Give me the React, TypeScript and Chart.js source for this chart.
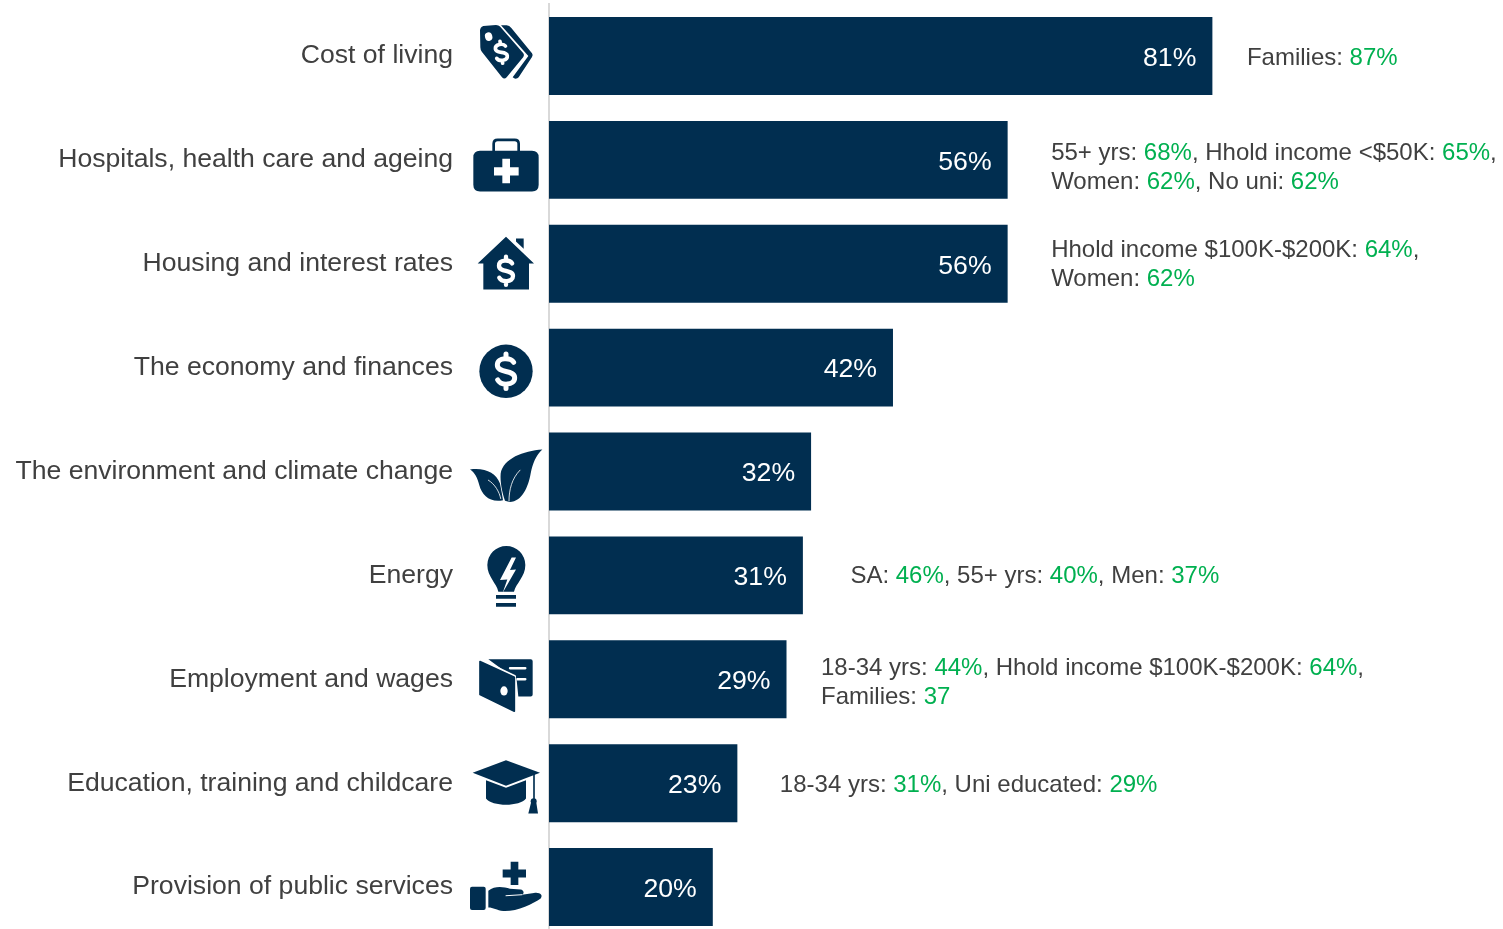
import React, { useEffect, useRef } from "react";
import { Chart, registerables } from "chart.js";

Chart.register(...registerables);

const categories = [
  "Cost of living",
  "Hospitals, health care and ageing",
  "Housing and interest rates",
  "The economy and finances",
  "The environment and climate change",
  "Energy",
  "Employment and wages",
  "Education, training and childcare",
  "Provision of public services",
];
const shares = [81, 56, 56, 42, 32, 31, 29, 23, 20];

// Each note line alternates: plain text, highlighted text, plain text, ...
const notes: string[][][] = [
  [["Families: ", "87%"]],
  [
    ["55+ yrs: ", "68%", ", Hhold income <$50K: ", "65%", ","],
    ["Women: ", "62%", ", No uni: ", "62%"],
  ],
  [
    ["Hhold income $100K-$200K: ", "64%", ","],
    ["Women: ", "62%"],
  ],
  [],
  [],
  [["SA: ", "46%", ", 55+ yrs: ", "40%", ", Men: ", "37%"]],
  [
    ["18-34 yrs: ", "44%", ", Hhold income $100K-$200K: ", "64%", ","],
    ["Families: ", "37"],
  ],
  [["18-34 yrs: ", "31%", ", Uni educated: ", "29%"]],
  [],
];
const noteGaps = [34.5, 43.5, 43.5, 0, 0, 47.5, 34.5, 42.5, 0];
const noteShifts = [2, 7.6, 1, 0, 0, 1, 3.2, 2, 0];

const NAVY = "#012e50";
const GREY = "#404040";
const GREEN = "#00b050";
const FONT = '"Liberation Sans", Arial, sans-serif';

type C = CanvasRenderingContext2D;

function fillPath(ctx: C, d: string, color = NAVY) {
  ctx.fillStyle = color;
  ctx.fill(new Path2D(d));
}
function strokePath(ctx: C, d: string, width: number, color = "#ffffff") {
  ctx.strokeStyle = color;
  ctx.lineWidth = width;
  ctx.lineCap = "round";
  ctx.lineJoin = "round";
  ctx.stroke(new Path2D(d));
}
function dollar(ctx: C, x: number, y: number, h: number, w: number, rot = 0) {
  ctx.save();
  ctx.translate(x, y);
  ctx.rotate(rot);
  ctx.scale(h, h);
  strokePath(
    ctx,
    "M.22 -.26C.14 -.4 -.25 -.42 -.25 -.18C-.25 .07 .25 -.06 .25 .19C.25 .42 -.15 .42 -.24 .25M0 -.5L0 -.38M0 .38L0 .5",
    w / h
  );
  ctx.restore();
}

// Icons are drawn in 3x units; [reference y, painter] anchors each on its bar.
const icons: [number, (ctx: C) => void][] = [
  [168, (ctx) => {
    fillPath(ctx, "M123 76L140 76Q148 76 154 84L216 160Q220 165 216 171L176 232Q172 237 164 236L158 232L205 168Z");
    fillPath(ctx, "M60 92Q60 82 70 78L108 75Q116 75 120 80L190 160Q194 165 190 171L140 232Q133 240 126 232L66 156Q61 150 61 142Z");
    ctx.fillStyle = "#fff";
    ctx.beginPath();
    ctx.ellipse(86, 110, 11, 13, -0.3, 0, Math.PI * 2);
    ctx.fill();
    dollar(ctx, 124, 157, 66, 11, -0.12);
  }],
  [480, (ctx) => {
    strokePath(ctx, "M101 455L101 432Q101 420 113 420L164 420Q176 420 176 432L176 455", 8, NAVY);
    fillPath(ctx, "M60 453L216 453Q236 453 236 473L236 555Q236 575 216 575L60 575Q40 575 40 555L40 473Q40 453 60 453Z");
    fillPath(ctx, "M127 477L150 477L150 502L176 502L176 527L150 527L150 550L127 550L127 527L102 527L102 502L127 502Z", "#fff");
  }],
  [791, (ctx) => {
    fillPath(ctx, "M168 715L191 715L191 746L168 724Z");
    fillPath(ctx, "M138 710L222 790L207 790L207 868L70 868L70 790L53 790Z");
    dollar(ctx, 138, 812, 84, 13);
  }],
  [173, (ctx) => {
    ctx.fillStyle = NAVY;
    ctx.beginPath();
    ctx.arc(138, 184, 80, 0, Math.PI * 2);
    ctx.fill();
    dollar(ctx, 138, 184, 104, 15);
  }],
  [484, (ctx) => {
    fillPath(ctx, "M247 418C190 422 130 445 122 490C120 515 126 545 135 572L146 575C185 578 205 530 212 490C218 460 228 435 247 418Z");
    fillPath(ctx, "M30 478C75 472 108 488 120 520C124 540 127 555 129 570C90 578 66 555 58 525C52 503 45 488 30 478Z");
    strokePath(ctx, "M147 572C147 540 155 505 180 480", 2.5);
    strokePath(ctx, "M122 565C118 545 105 522 85 510", 2.5);
  }],
  [796, (ctx) => {
    fillPath(ctx, "M115 845C110 820 82 800 82 765A56 56 0 0 1 196 765C196 800 168 820 162 845Z");
    fillPath(ctx, "M155 742L168 742L150 780L168 778L128 848L142 808L120 810Z", "#fff");
    fillPath(ctx, "M108 855L168 855L168 866L108 866ZM108 879L168 879L168 890L108 890Z");
  }],
  [178, (ctx) => {
    fillPath(ctx, "M85 118L212 118Q218 118 218 124L218 224Q218 230 212 230L175 230L170 180Z");
    strokePath(ctx, "M60 120L163 170L163 278L60 228Z", 10);
    strokePath(ctx, "M60 125L163 172L163 274L60 224Z", 5, NAVY);
    fillPath(ctx, "M60 125L163 172L163 274L60 224Z");
    strokePath(ctx, "M150 145L196 145M172 178L196 178", 7);
    ctx.fillStyle = "#fff";
    ctx.beginPath();
    ctx.ellipse(132, 213, 11, 14, 0, 0, Math.PI * 2);
    ctx.fill();
  }],
  [489, (ctx) => {
    fillPath(ctx, "M138 420L240 458L138 497L38 458Z");
    fillPath(ctx, "M78 480L138 503L198 480L198 535C180 560 96 560 78 535Z");
    strokePath(ctx, "M222 462L222 535", 5, NAVY);
    ctx.fillStyle = NAVY;
    ctx.beginPath();
    ctx.arc(221, 543, 9, 0, Math.PI * 2);
    ctx.fill();
    fillPath(ctx, "M213 548L229 548L234 580L205 580Z");
  }],
  [801, (ctx) => {
    fillPath(ctx, "M152 725L175 725L175 748L198 748L198 772L175 772L175 795L152 795L152 772L128 772L128 748L152 748Z");
    fillPath(ctx, "M36 800L71 800Q77 800 77 806L77 864Q77 870 71 870L36 870Q30 870 30 864L30 806Q30 800 36 800Z");
    fillPath(ctx, "M85 812C105 796 130 800 150 806L182 808C192 810 194 820 186 824L222 819C240 816 250 826 242 835C220 850 170 875 130 873C110 870 100 862 85 862Z");
    strokePath(ctx, "M138 827L186 824", 3);
  }],
];

const annotations = {
  id: "annotations",
  afterDatasetsDraw(chart: any) {
    const { ctx, scales } = chart;
    const x = scales.x;
    const y = scales.y;
    ctx.save();
    ctx.textBaseline = "middle";
    shares.forEach((v, i) => {
      const end = x.getPixelForValue(v);
      const mid = y.getPixelForValue(i);
      ctx.font = `26.67px ${FONT}`;
      ctx.textAlign = "right";
      ctx.fillStyle = "#ffffff";
      ctx.fillText(`${v}%`, end - 16, mid + 2.5);

      ctx.font = `24px ${FONT}`;
      ctx.textAlign = "left";
      const lines = notes[i];
      lines.forEach((parts, li) => {
        let px = end + noteGaps[i];
        const py = mid + noteShifts[i] + (li - (lines.length - 1) / 2) * 29;
        parts.forEach((part, pi) => {
          ctx.fillStyle = pi % 2 ? GREEN : GREY;
          ctx.fillText(part, px, py);
          px += ctx.measureText(part).width;
        });
      });

      const [ref, paint] = icons[i];
      ctx.save();
      ctx.translate(506, mid);
      ctx.scale(1 / 3, 1 / 3);
      ctx.translate(-138, -ref);
      paint(ctx);
      ctx.restore();
    });
    ctx.restore();
  },
};

export default function App() {
  const ref = useRef<HTMLCanvasElement>(null);
  useEffect(() => {
    const chart = new Chart(ref.current!, {
      type: "bar",
      data: {
        labels: categories,
        datasets: [
          {
            data: shares,
            backgroundColor: NAVY,
            borderWidth: 0,
            barPercentage: 0.75,
            categoryPercentage: 1,
          },
        ],
      },
      options: {
        indexAxis: "y",
        animation: false,
        responsive: false,
        maintainAspectRatio: false,
        layout: { padding: { top: 4, bottom: 4, left: 0, right: 135 } },
        plugins: { legend: { display: false }, tooltip: { enabled: false } },
        scales: {
          x: { display: false, min: 0, max: 100 },
          y: {
            afterFit: (s: any) => {
              s.width = 549;
              s.paddingTop = 0;
              s.paddingBottom = 0;
            },
            grid: {
              display: true,
              drawOnChartArea: false,
              drawTicks: true,
              tickLength: 96,
              tickColor: "rgba(0,0,0,0)",
            },
            border: { display: true, color: "#d9d9d9", width: 2 },
            ticks: {
              color: GREY,
              padding: 0,
              font: { family: FONT, size: 26.6 },
              autoSkip: false,
            },
          },
        },
      },
      plugins: [annotations],
    } as any);
    return () => chart.destroy();
  }, []);
  return (
    <div style={{ position: "absolute", left: 0, top: 0, width: 1503, height: 929, overflow: "hidden", background: "#fff" }}>
      <canvas ref={ref} width={1503} height={943} style={{ display: "block" }} />
    </div>
  );
}
